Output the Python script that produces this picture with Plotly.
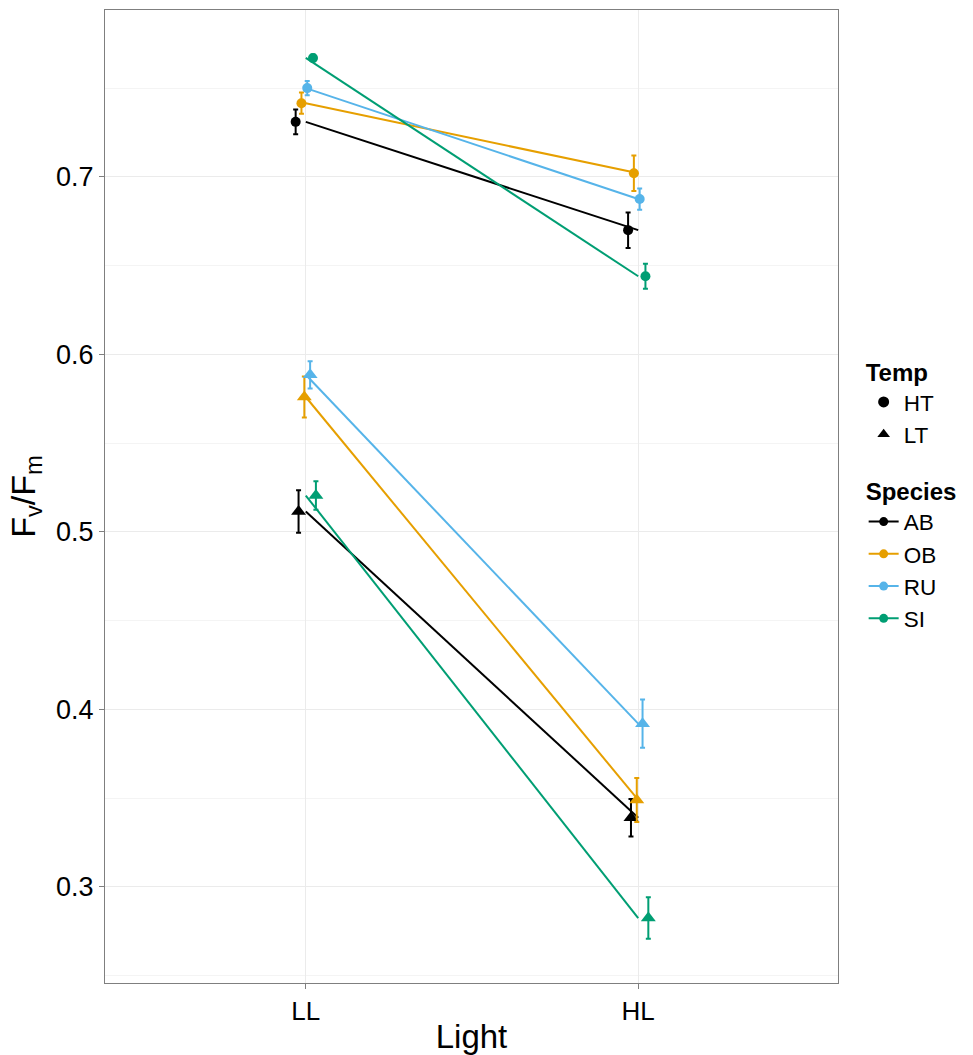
import plotly.graph_objects as go

lights = ["LL", "HL"]
species = ["AB", "OB", "RU", "SI"]
temps = ["HT", "LT"]
colors = {"AB": "#000000", "OB": "#E69F00", "RU": "#56B4E9", "SI": "#009E73"}

# mean Fv/Fm  [LL, HL]
mean_HT = {"AB": [0.731, 0.670], "OB": [0.7415, 0.702], "RU": [0.750, 0.6875], "SI": [0.767, 0.644]}
err_HT = {"AB": [0.007, 0.010], "OB": [0.006, 0.010], "RU": [0.004, 0.006], "SI": [0.002, 0.007]}
mean_LT = {"AB": [0.5115, 0.339], "OB": [0.576, 0.349], "RU": [0.5885, 0.392], "SI": [0.5205, 0.2825]}
err_LT = {"AB": [0.012, 0.0106], "OB": [0.0115, 0.0124], "RU": [0.0077, 0.0136], "SI": [0.008, 0.0117]}

means = {"HT": mean_HT, "LT": mean_LT}
errs = {"HT": err_HT, "LT": err_LT}
symbols = {"HT": "circle", "LT": "triangle-up"}
msize = {"HT": 10, "LT": 13}

fig = go.Figure()
xpos = [1, 2]
dodge_step = 0.0087
k = 0
for sp in species:
    for t in temps:
        off = (k - 3.5) * dodge_step
        k += 1
        # line at undodged positions
        fig.add_trace(go.Scatter(
            x=xpos, y=means[t][sp], mode="lines",
            line=dict(color=colors[sp], width=2), showlegend=False, hoverinfo="skip"))
        fig.add_trace(go.Scatter(
            x=[v + off for v in xpos], y=means[t][sp], mode="markers",
            marker=dict(color=colors[sp], symbol=symbols[t], size=msize[t]),
            error_y=dict(type="data", array=errs[t][sp], color=colors[sp], thickness=2, width=2.5),
            showlegend=False))

# legend: Temp
for t in temps:
    fig.add_trace(go.Scatter(
        x=[None], y=[None], mode="markers", name=t,
        marker=dict(color="black", symbol=symbols[t], size=11),
        legend="legend"))
# legend: Species
for sp in species:
    fig.add_trace(go.Scatter(
        x=[None], y=[None], mode="lines+markers", name=sp,
        line=dict(color=colors[sp], width=2),
        marker=dict(color=colors[sp], size=9),
        legend="legend2"))

font_family = "Liberation Sans, Arial, sans-serif"
fig.update_layout(
    width=973, height=1055,
    margin=dict(l=105, r=135, t=10, b=72),
    paper_bgcolor="white", plot_bgcolor="white",
    font=dict(family=font_family, size=22, color="black"),
    xaxis=dict(
        range=[0.396, 2.601], tickvals=xpos, ticktext=lights,
        showgrid=True, gridcolor="#EBEBEB", gridwidth=1.2,
        ticks="outside", ticklen=5, tickcolor="#7F7F7F", tickwidth=1,
        tickfont=dict(size=26, color="black"),
        showline=True, linecolor="#7F7F7F", linewidth=1, mirror=True,
        zeroline=False, automargin=False,
        title=dict(text="Light", font=dict(size=33), standoff=4)),
    yaxis=dict(
        range=[0.2459, 0.794], tickvals=[0.3, 0.4, 0.5, 0.6, 0.7],
        ticktext=["0.3", "0.4", "0.5", "0.6", "0.7"],
        showgrid=True, gridcolor="#EBEBEB", gridwidth=1.2,
        minor=dict(dtick=0.05, tick0=0.25, showgrid=True, gridcolor="#F4F4F4", gridwidth=1, ticks=""),
        ticks="outside", ticklen=5, tickcolor="#7F7F7F", tickwidth=1,
        tickfont=dict(size=27, color="black"),
        showline=True, linecolor="#7F7F7F", linewidth=1, mirror=True,
        zeroline=False, automargin=False,
        title=dict(text="F<sub>v</sub>/F<sub>m</sub>", font=dict(size=34), standoff=10)),
    legend=dict(
        title=dict(text="<b>Temp</b>", font=dict(size=24)),
        x=1.035, y=0.651, xanchor="left", yanchor="top",
        font=dict(size=22.5), bgcolor="rgba(0,0,0,0)", tracegroupgap=0,
        itemwidth=30),
    legend2=dict(
        title=dict(text="<b>Species</b>", font=dict(size=24)),
        x=1.035, y=0.528, xanchor="left", yanchor="top",
        font=dict(size=22.5), bgcolor="rgba(0,0,0,0)", tracegroupgap=0,
        itemwidth=30),
)

fig.write_html("out.html")
